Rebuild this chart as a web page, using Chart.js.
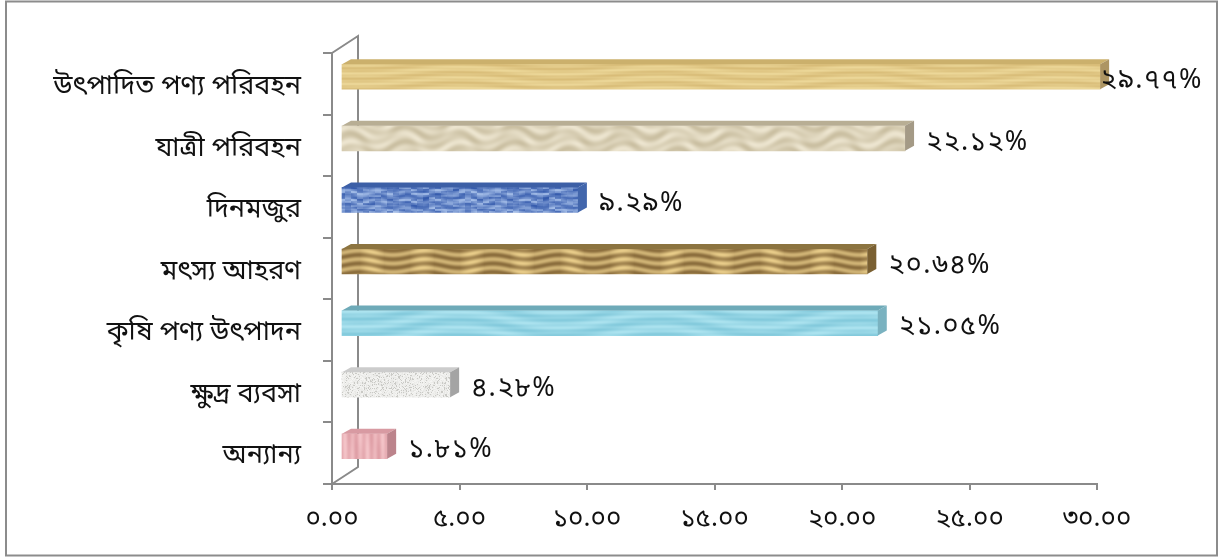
<!DOCTYPE html>
<html>
<head>
<meta charset="utf-8">
<script src="https://cdn.jsdelivr.net/npm/chart.js@4.4.1/dist/chart.umd.min.js"></script>
<style>
  html, body { margin: 0; padding: 0; background: #fff; }
  #wrap { position: relative; width: 1221px; height: 558px; }
</style>
</head>
<body>
<div id="wrap"><canvas id="shareChart"></canvas></div>
<script>
const categories = ['উৎপাদিত পণ্য পরিবহন', 'যাত্রী পরিবহন', 'দিনমজুর', 'মৎস্য আহরণ', 'কৃষি পণ্য উৎপাদন', 'ক্ষুদ্র ব্যবসা', 'অন্যান্য'];
const shares = [29.77, 22.12, 9.29, 20.64, 21.05, 4.28, 1.81];
const axisTicks = [0, 5, 10, 15, 20, 25, 30];

const bnFont = '"Noto Sans Bengali", "Lohit Bengali", "Noto Sans", "DejaVu Sans", sans-serif';
const bnDigits = '০১২৩৪৫৬৭৮৯';
const toBn = (s) => String(s).replace(/\d/g, (d) => bnDigits[d]);

// depth of the 3D look: bars sit a little back from the front axes
const barShift = { x: 9, y: -7 };
const barDepth = { x: 9, y: -5 };
const wallDepth = { x: 26, y: -17 };

// small deterministic hash used for speckled textures
function hash(x, y) {
  let n = x * 374761393 + y * 668265263;
  n = (n ^ (n >>> 13)) * 1274126177;
  return ((n ^ (n >>> 16)) >>> 0) / 4294967295;
}
const clamp = (v) => Math.max(0, Math.min(255, v));
const TAU = Math.PI * 2;
// sine that repeats cleanly k times across a tile of size n
const wave = (p, k, n, phase = 0) => Math.sin(TAU * k * p / n + phase);

function makePattern(w, h, fn) {
  const c = document.createElement('canvas');
  c.width = w; c.height = h;
  const g = c.getContext('2d');
  const img = g.createImageData(w, h);
  for (let y = 0; y < h; y++) {
    for (let x = 0; x < w; x++) {
      const [r, gg, b] = fn(x, y, w, h);
      const i = (y * w + x) * 4;
      img.data[i] = clamp(r); img.data[i + 1] = clamp(gg); img.data[i + 2] = clamp(b); img.data[i + 3] = 255;
    }
  }
  g.putImageData(img, 0, 0);
  return document.createElement('canvas').getContext('2d').createPattern(c, 'repeat');
}

const mix = (a, b, t) => [a[0] + (b[0] - a[0]) * t, a[1] + (b[1] - a[1]) * t, a[2] + (b[2] - a[2]) * t];

const textures = [
  // light pine
  makePattern(600, 60, (x, y, w, h) => {
    const v = wave(y, 6, h, 2 * wave(x, 3, w)) * 0.5 + wave(y, 17, h, wave(x, 2, w)) * 0.25;
    return mix([238, 218, 156], [212, 182, 112], 0.45 + v * 0.5);
  }),
  // pale paper
  makePattern(600, 60, (x, y, w, h) => {
    const v = wave(y, 4, h, 2.5 * wave(x, 11, w)) * wave(x, 5, w, wave(y, 2, h));
    return mix([234, 226, 204], [192, 180, 148], 0.35 + v * 0.4);
  }),
  // blue denim
  makePattern(120, 60, (x, y, w, h) => {
    const n = hash(Math.floor(x / 6), Math.floor(y / 2));
    const s = wave(y, 7, h, 1.5 * wave(x, 4, w)) * 0.5 + 0.5;
    return mix([52, 90, 172], [176, 200, 238], n * 0.55 + s * 0.35);
  }),
  // golden oak
  makePattern(600, 60, (x, y, w, h) => {
    const band = wave(y, 7, h, 1.6 * wave(x, 9, w));
    const glow = Math.max(0, wave(x, 12, w)) * 0.5;
    return mix([126, 96, 50], [238, 210, 142], 0.42 + band * 0.3 + glow * 0.45);
  }),
  // water
  makePattern(600, 60, (x, y, w, h) => {
    const v = wave(y, 4, h, 3 * wave(x, 3, w)) * 0.6 + wave(y, 12, h, wave(x, 2, w)) * 0.3;
    return mix([174, 228, 240], [118, 194, 214], 0.4 + v * 0.4);
  }),
  // white marble
  makePattern(80, 60, (x, y) => {
    const n = hash(x, y);
    const s = n > 0.84 ? 0.6 : n * 0.25;
    return mix([246, 246, 244], [172, 172, 168], s);
  }),
  // pink reed
  makePattern(60, 60, (x, y, w, h) => {
    const v = wave(x, 8, w) * 0.5 + wave(x, 3, w, wave(y, 1, h)) * 0.3;
    return mix([246, 200, 204], [218, 150, 158], 0.45 + v * 0.45);
  })
];
const topFaces = ['#cbb06c', '#b8ae94', '#3c5fa6', '#8c7440', '#6eaab8', '#cccccc', '#d89aa2'];
const sideFaces = ['#ad9563', '#a49a86', '#4266ac', '#7a6032', '#7ab2c0', '#a4a4a4', '#bc848c'];

const box3d = {
  id: 'box3d',
  beforeDraw(chart) {
    const { ctx, chartArea: a } = chart;
    ctx.save();
    // frame around the whole figure
    ctx.strokeStyle = '#8c8c8c';
    ctx.lineWidth = 2;
    ctx.strokeRect(6, 1.5, 1211, 554);
    // back wall edge of the 3D plot
    ctx.strokeStyle = '#8a8a8a';
    ctx.lineWidth = 2;
    ctx.beginPath();
    ctx.moveTo(a.left, a.top);
    ctx.lineTo(a.left + wallDepth.x, a.top + wallDepth.y);
    ctx.lineTo(a.left + wallDepth.x, a.bottom + wallDepth.y);
    ctx.lineTo(a.left, a.bottom);
    ctx.stroke();
    ctx.restore();
  },
  beforeDatasetsDraw(chart) {
    chart.ctx.save();
    chart.ctx.translate(barShift.x, barShift.y);
  },
  afterDatasetsDraw(chart) {
    const { ctx } = chart;
    const meta = chart.getDatasetMeta(0);
    meta.data.forEach((bar, i) => {
      const x0 = bar.base, x1 = bar.x;
      const y0 = bar.y - bar.height / 2, y1 = bar.y + bar.height / 2;
      ctx.fillStyle = topFaces[i];
      ctx.beginPath();
      ctx.moveTo(x0, y0);
      ctx.lineTo(x1, y0);
      ctx.lineTo(x1 + barDepth.x, y0 + barDepth.y);
      ctx.lineTo(x0 + barDepth.x, y0 + barDepth.y);
      ctx.closePath();
      ctx.fill();
      ctx.fillStyle = sideFaces[i];
      ctx.beginPath();
      ctx.moveTo(x1, y0);
      ctx.lineTo(x1 + barDepth.x, y0 + barDepth.y);
      ctx.lineTo(x1 + barDepth.x, y1 + barDepth.y);
      ctx.lineTo(x1, y1);
      ctx.closePath();
      ctx.fill();
    });
    ctx.restore();

    // value labels after each bar
    ctx.save();
    ctx.font = '27px ' + bnFont;
    ctx.letterSpacing = '1.5px';
    ctx.fillStyle = '#111';
    ctx.textBaseline = 'middle';
    meta.data.forEach((bar, i) => {
      const text = toBn(shares[i].toFixed(2)) + '%';
      const w = ctx.measureText(text).width;
      let x = bar.x + barShift.x + barDepth.x + 12;
      x = Math.min(x, chart.width - 18 - w);
      ctx.fillText(text, x, bar.y + barShift.y + 6);
    });
    ctx.restore();
  }
};

new Chart(document.getElementById('shareChart'), {
  type: 'bar',
  data: {
    labels: categories,
    datasets: [{
      data: shares,
      backgroundColor: textures,
      borderWidth: 0,
      barThickness: 25,
      clip: false
    }]
  },
  plugins: [box3d],
  options: {
    indexAxis: 'y',
    responsive: true,
    maintainAspectRatio: false,
    animation: false,
    layout: { padding: { top: 53, right: 124, left: 0, bottom: 0 } },
    plugins: {
      legend: { display: false },
      tooltip: { enabled: false }
    },
    scales: {
      x: {
        min: axisTicks[0],
        max: axisTicks[axisTicks.length - 1],
        afterBuildTicks: (scale) => { scale.ticks = axisTicks.map((v) => ({ value: v })); },
        afterFit: (scale) => { scale.height = 558 - 484; },
        grid: { drawOnChartArea: false, drawTicks: true, tickLength: 6, color: '#8a8a8a', lineWidth: 2 },
        border: { display: true, color: '#8a8a8a', width: 2 },
        ticks: {
          color: '#111',
          padding: 15,
          font: { family: bnFont, size: 26 },
          callback: (v) => toBn(Number(v).toFixed(2))
        }
      },
      y: {
        afterFit: (scale) => { scale.width = 332; },
        grid: { drawOnChartArea: false, drawTicks: true, tickLength: 9, color: '#8a8a8a', lineWidth: 2 },
        border: { display: true, color: '#8a8a8a', width: 2 },
        ticks: {
          color: '#111',
          padding: 22,
          labelOffset: 5,
          font: { family: bnFont, size: 27 }
        }
      }
    }
  }
});
</script>
</body>
</html>
